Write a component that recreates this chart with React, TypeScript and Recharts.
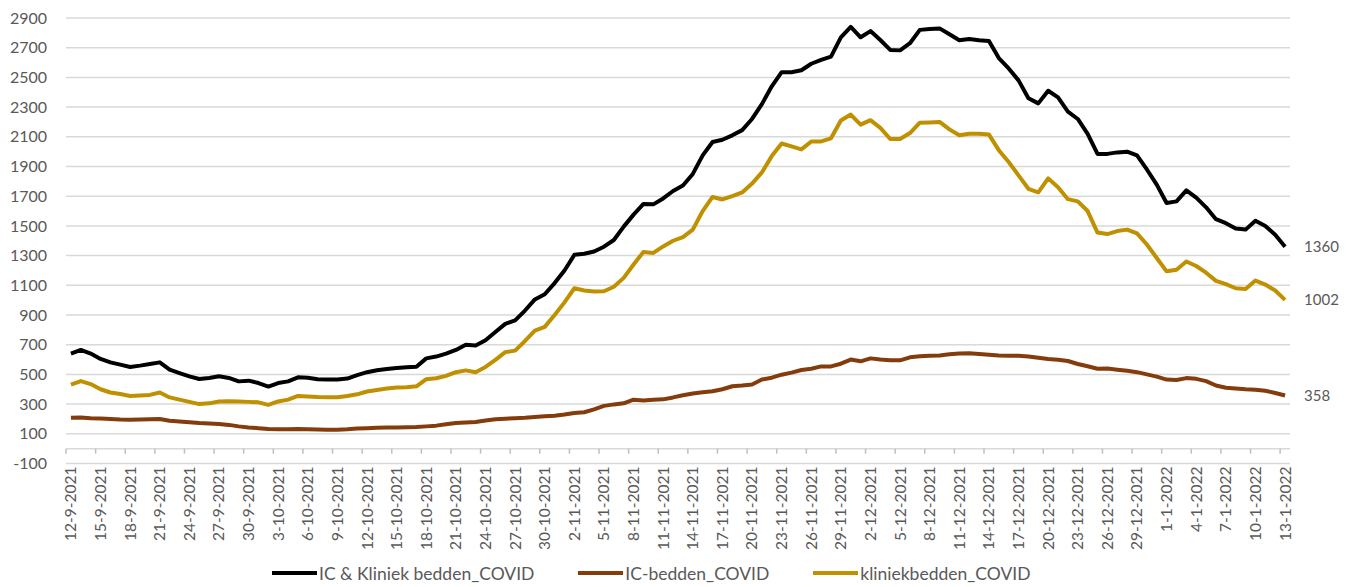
import React from 'react';
import { LineChart, Line, XAxis, YAxis, CartesianGrid, Legend, ReferenceLine } from 'recharts';

// daily values 12-9-2021 .. 13-1-2022 (124 days)
const totalBeds = [
  640, 665, 640, 604, 581, 566, 550, 559, 570, 581, 532, 509, 487, 469, 476, 487, 476, 453, 458, 442, 418,
  442, 453, 480, 478, 468, 465, 465, 472, 495, 515, 528, 537, 543, 548, 552, 608, 620, 640, 665, 700,
  695, 730, 785, 840, 864, 930, 1005, 1040, 1115, 1200, 1305, 1312, 1328, 1360, 1405, 1495, 1576, 1648, 1645, 1685, 1735,
  1772, 1850, 1975, 2065, 2080, 2110, 2145, 2220, 2320, 2440, 2535, 2535, 2548, 2592, 2618, 2640, 2770, 2840, 2770, 2812,
  2752, 2685, 2682, 2730, 2820, 2826, 2830, 2790, 2750, 2759, 2750, 2745, 2630, 2560, 2480, 2360, 2325, 2410, 2365, 2270,
  2220, 2120, 1985, 1985, 1995, 2000, 1975, 1880, 1778, 1654, 1665, 1739, 1690, 1625, 1545, 1518, 1482, 1475, 1535, 1500, 1440, 1360,
];

const icBeds = [
  208, 210, 205, 203, 200, 196, 195, 196, 198, 200, 188, 183, 177, 172, 170, 166, 160, 150, 143, 138, 132,
  131, 131, 132, 130, 129, 128, 128, 130, 135, 138, 140, 142, 143, 144, 146, 150, 155, 165, 172, 176,
  180, 190, 198, 202, 205, 208, 213, 218, 222, 230, 240, 245, 265, 288, 298, 305, 330, 325, 330, 332, 345,
  360, 372, 380, 386, 400, 420, 425, 432, 466, 478, 498, 512, 530, 538, 554, 554, 572, 600, 588, 608,
  600, 595, 595, 615, 622, 626, 628, 635, 640, 642, 638, 633, 628, 626, 626, 620, 612, 604, 598, 590,
  570, 555, 538, 540, 532, 525, 515, 500, 485, 465, 462, 475, 470, 455, 425, 410, 405, 400, 397, 390, 375, 358,
];

const clinicBeds = [
  431, 455, 435, 400, 378, 368, 355, 358, 362, 378, 345, 330, 315, 300, 305, 318, 320, 318, 315, 312, 295,
  318, 330, 355, 352, 348, 346, 346, 355, 366, 385, 395, 405, 412, 414, 420, 468, 474, 490, 515, 527,
  515, 550, 598, 650, 660, 725, 795, 820, 900, 985, 1080, 1065, 1058, 1060, 1090, 1150, 1240, 1325, 1318, 1362, 1400,
  1425, 1475, 1600, 1695, 1678, 1700, 1725, 1785, 1860, 1970, 2055, 2035, 2015, 2068, 2069, 2090, 2210, 2250, 2182, 2212,
  2160, 2085, 2085, 2125, 2195, 2197, 2200, 2150, 2110, 2121, 2121, 2115, 2010, 1930, 1840, 1750, 1726, 1820, 1760, 1680,
  1665, 1600, 1455, 1445, 1465, 1475, 1450, 1375, 1284, 1194, 1205, 1260, 1230, 1185, 1130, 1108, 1080, 1075, 1132, 1105, 1065, 1002,
];

const firstDay = Date.UTC(2021, 8, 12);
const dates = totalBeds.map((_, i) => {
  const d = new Date(firstDay + i * 86400000);
  return `${d.getUTCDate()}-${d.getUTCMonth() + 1}-${d.getUTCFullYear()}`;
});

const yTicks = [-100, 100, 300, 500, 700, 900, 1100, 1300, 1500, 1700, 1900, 2100, 2300, 2500, 2700, 2900];

const data = dates.map((date, i) => ({
  date,
  total: totalBeds[i],
  ic: icBeds[i],
  clinic: clinicBeds[i],
}));

const FONT = 'Lato, "Open Sans", sans-serif';
const GREY = '#595959';
const W = 1359;
const H = 587;
const PLOT_LEFT = 66;
const PLOT_RIGHT = 1290;
const PLOT_TOP = 18;
const PLOT_BOTTOM = 463.5;
const HALF_DAY = (PLOT_RIGHT - PLOT_LEFT) / totalBeds.length / 2;
const ZERO_UP = ((PLOT_BOTTOM - PLOT_TOP) * 100) / 3000;

const DateTick = (props: any) => {
  const { x, y, payload } = props;
  return (
    <g>
      <line x1={x - HALF_DAY} x2={x - HALF_DAY} y1={y - ZERO_UP} y2={y - ZERO_UP + 5} stroke="#bfbfbf" strokeWidth={1.5} />
      <text
        transform={`translate(${x},${y + 3}) rotate(-90)`}
        textAnchor="end"
        dy="0.35em"
        fill={GREY}
        fontSize={15.5}
        fontFamily={FONT}
      >
        {payload.value}
      </text>
    </g>
  );
};

const endLabel = (color: string) => (props: any) => {
  const { x, y, index, value } = props;
  if (index !== totalBeds.length - 1) return null;
  return (
    <text x={x + 19} y={y} dy="0.35em" fill={GREY} fontSize={15} fontFamily={FONT}>
      {value}
    </text>
  );
};

const renderLegend = (props: any) => (
  <div style={{ display: 'flex', alignItems: 'center', height: 24, paddingLeft: 272, fontFamily: FONT, fontSize: 17.5, color: GREY }}>
    {props.payload.map((p: any) => (
      <div key={p.value} style={{ display: 'flex', alignItems: 'center', marginRight: 44 }}>
        <span style={{ display: 'inline-block', width: 45, height: 4, background: p.color, marginRight: 2 }} />
        <span>{p.value}</span>
      </div>
    ))}
  </div>
);

export default function App() {
  return (
    <div style={{ position: 'absolute', left: 0, top: 0, background: '#fff' }}>
      <LineChart width={W} height={H} data={data} margin={{ top: PLOT_TOP, right: W - PLOT_RIGHT, left: 0, bottom: 2 }}>
        <CartesianGrid vertical={false} stroke="#d9d9d9" strokeWidth={1.5} />
        <XAxis
          dataKey="date"
          interval={2}
          axisLine={false}
          tickLine={false}
          tickSize={0}
          tickMargin={0}
          height={PLOT_BOTTOM > 0 ? H - PLOT_BOTTOM - 26 : 0}
          padding={{ left: HALF_DAY, right: HALF_DAY }}
          tick={<DateTick />}
        />
        <YAxis
          domain={[-100, 2900]}
          ticks={yTicks}
          width={PLOT_LEFT}
          axisLine={false}
          tickLine={false}
          tickSize={0}
          tickMargin={19}
          tick={{ fill: GREY, fontSize: 16, fontFamily: FONT }}
        />
        <ReferenceLine y={0} stroke="#d9d9d9" strokeWidth={1.5} />
        <Legend verticalAlign="bottom" content={renderLegend} />
        <Line
          dataKey="total"
          name="IC & Kliniek bedden_COVID"
          stroke="#000000"
          strokeWidth={4}
          dot={false}
          strokeLinejoin="round"
          isAnimationActive={false}
          label={endLabel('#000')}
        />
        <Line
          dataKey="ic"
          name="IC-bedden_COVID"
          stroke="#843C0C"
          strokeWidth={4}
          dot={false}
          strokeLinejoin="round"
          isAnimationActive={false}
          label={endLabel('#843C0C')}
        />
        <Line
          dataKey="clinic"
          name="kliniekbedden_COVID"
          stroke="#BF9000"
          strokeWidth={4}
          dot={false}
          strokeLinejoin="round"
          isAnimationActive={false}
          label={endLabel('#BF9000')}
        />
      </LineChart>
    </div>
  );
}
